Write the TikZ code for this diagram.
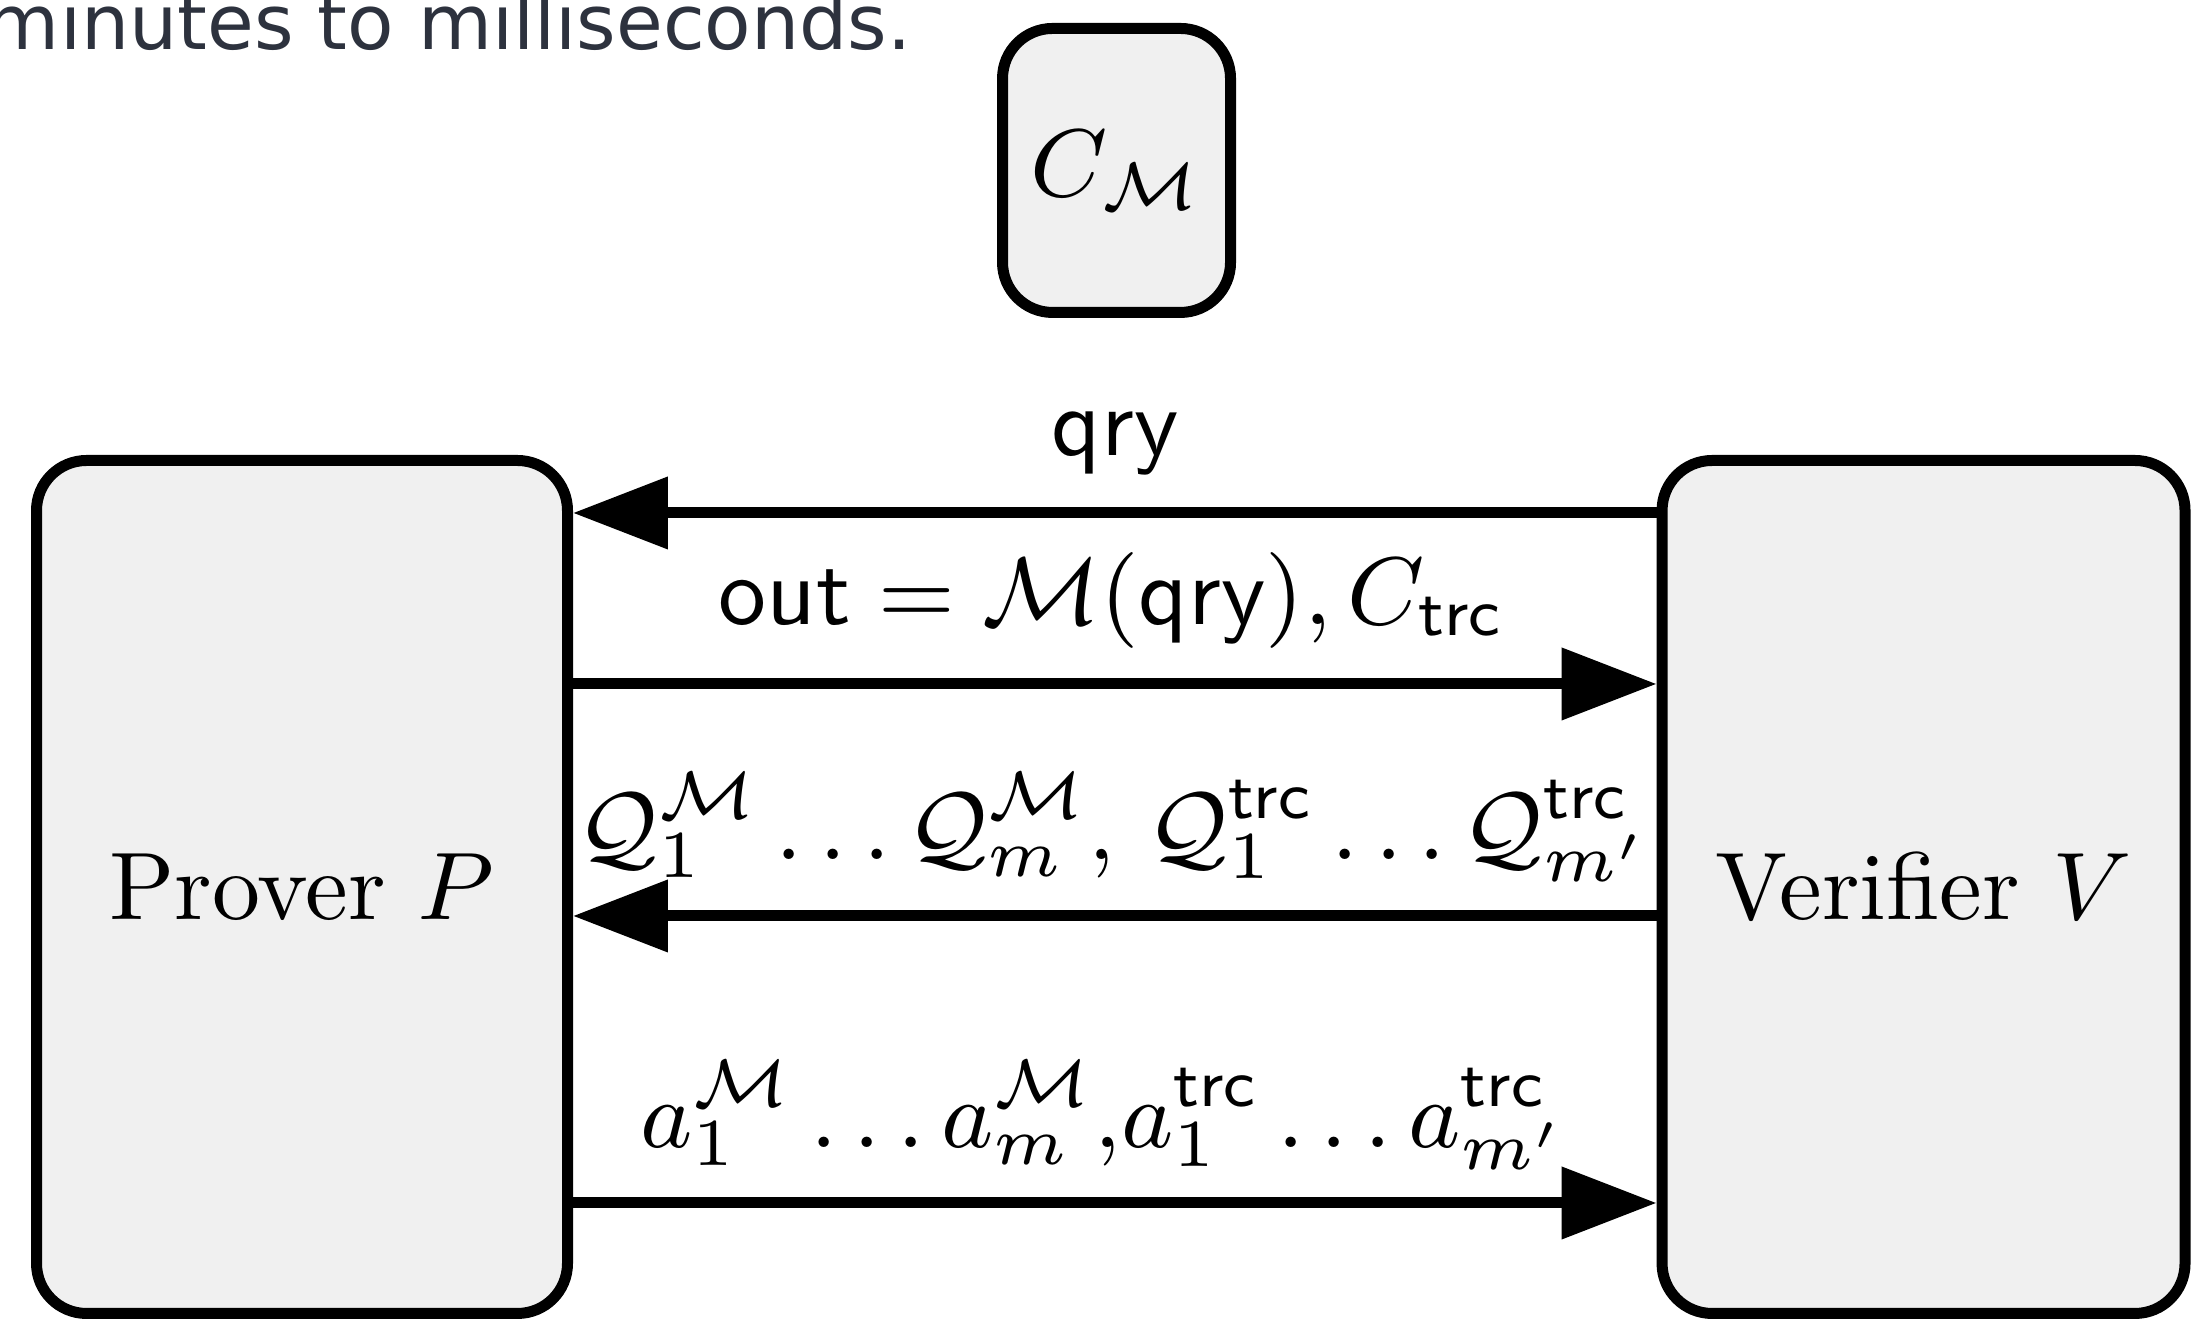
\RequirePackage{fix-cm}
\documentclass[tikz,border=0pt]{standalone}
\usepackage{fontspec}
\usetikzlibrary{arrows.meta}
\newfontfamily\uifont{DejaVu Sans}
\definecolor{boxfill}{RGB}{240,240,240}
\definecolor{uitext}{RGB}{45,50,62}
\begin{document}
\begin{tikzpicture}[x=0.1pt,y=-0.1pt,
  font=\fontsize{9.6}{11.5}\selectfont,
  party/.style={draw=black, line width=1.1pt, fill=boxfill, rounded corners=5pt, inner sep=0pt},
  msg/.style={line width=1.1pt, -{Triangle[length=9.5pt,width=7pt]}},
  lbl/.style={inner sep=0pt}]
\useasboundingbox (0,0) rectangle (2193,1321);
\clip (0,0) rectangle (2193,1321);
\node[anchor=base west, inner sep=0pt, text=uitext, font=\uifont\fontsize{7.6}{9}\selectfont] (cap) at (-16,50) {minutes to milliseconds.};
\node[party, minimum width=22.8pt, minimum height=28.4pt] (CM) at (1116.5,170.5) {$C_{\mathcal{M}}$};
\node[party, minimum width=53.1pt, minimum height=85.3pt] (P) at (302,887) {Prover $P$};
\node[party, minimum width=52.3pt, minimum height=85.3pt] (V) at (1923.5,887) {Verifier $V$};
\coordinate (r1) at (0,513);
\coordinate (r2) at (0,684);
\coordinate (r3) at (0,916);
\coordinate (r4) at (0,1203);
\draw[msg] (V.west |- r1) -- (P.east |- r1);
\draw[msg] (P.east |- r2) -- (V.west |- r2);
\draw[msg] (V.west |- r3) -- (P.east |- r3);
\draw[msg] (P.east |- r4) -- (V.west |- r4);
\node[lbl] (l1) at (1115,444) {$\mathsf{qry}$};
\node[lbl] (l2) at (1112,601) {$\mathsf{out} = \mathcal{M}(\mathsf{qry}), C_{\mathsf{trc}}$};
\node[lbl] (l3) at (1113,827) {$\mathcal{Q}_1^{\mathcal{M}} \ldots \mathcal{Q}_m^{\mathcal{M}}$, $\mathcal{Q}_1^{\mathsf{trc}} \ldots \mathcal{Q}_{m'}^{\mathsf{trc}}$};
\node[lbl] (l4) at (1103,1115) {$a_1^{\mathcal{M}} \ldots a_m^{\mathcal{M}}$,$a_1^{\mathsf{trc}} \ldots a_{m'}^{\mathsf{trc}}$};
\end{tikzpicture}
\end{document}
